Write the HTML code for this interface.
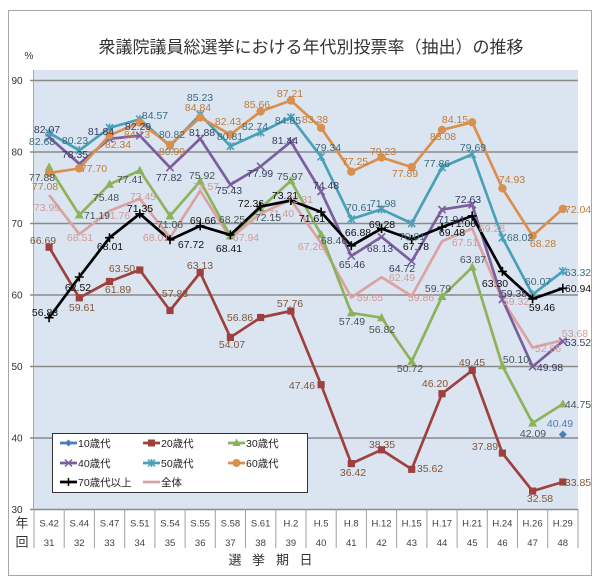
<!DOCTYPE html>
<html><head><meta charset="utf-8"><style>
html,body{margin:0;padding:0;background:#fff;}
svg{display:block;}
text{font-family:"Liberation Sans","Noto Sans CJK JP",sans-serif;}
.jp{font-family:"Liberation Sans","Noto Sans CJK JP",sans-serif;}
.lbl text{font-size:10.5px;text-anchor:middle;}
</style></head><body>
<svg width="610" height="581" viewBox="0 0 610 581" xmlns="http://www.w3.org/2000/svg">
<defs>
<marker id="m10" markerUnits="userSpaceOnUse" viewBox="-6 -6 12 12" markerWidth="12" markerHeight="12" refX="0" refY="0" overflow="visible"><polygon points="0,-4 4,0 0,4 -4,0" fill="#4a7ebb"/></marker>
<marker id="m20" markerUnits="userSpaceOnUse" viewBox="-6 -6 12 12" markerWidth="12" markerHeight="12" refX="0" refY="0" overflow="visible"><rect x="-3.6" y="-3.6" width="7.2" height="7.2" fill="#9e413e"/></marker>
<marker id="m30" markerUnits="userSpaceOnUse" viewBox="-6 -6 12 12" markerWidth="12" markerHeight="12" refX="0" refY="0" overflow="visible"><polygon points="0,-4.8 4.5,3.5 -4.5,3.5" fill="#8db35a"/></marker>
<marker id="m40" markerUnits="userSpaceOnUse" viewBox="-6 -6 12 12" markerWidth="12" markerHeight="12" refX="0" refY="0" overflow="visible"><path d="M-3.6,-3.6L3.6,3.6M3.6,-3.6L-3.6,3.6" stroke="#7b5f9d" stroke-width="1.6" fill="none"/></marker>
<marker id="m50" markerUnits="userSpaceOnUse" viewBox="-6 -6 12 12" markerWidth="12" markerHeight="12" refX="0" refY="0" overflow="visible"><path d="M-3.6,-3.6L3.6,3.6M3.6,-3.6L-3.6,3.6M0,-4.2L0,4.2" stroke="#4aa0b8" stroke-width="1.6" fill="none"/></marker>
<marker id="m60" markerUnits="userSpaceOnUse" viewBox="-6 -6 12 12" markerWidth="12" markerHeight="12" refX="0" refY="0" overflow="visible"><circle r="4.2" fill="#d98f4e"/></marker>
<marker id="m70" markerUnits="userSpaceOnUse" viewBox="-6 -6 12 12" markerWidth="12" markerHeight="12" refX="0" refY="0" overflow="visible"><path d="M0,-4.5V4.5M-4.5,0H4.5" stroke="#000" stroke-width="1.6" fill="none"/></marker>
</defs>

<!-- outer frame -->
<rect x="8.5" y="10.5" width="583" height="565" fill="#fff" stroke="#a6a6a6" stroke-width="1"/>

<!-- title -->
<text x="311" y="53" font-size="17" fill="#333" text-anchor="middle" class="jp">衆議院議員総選挙における年代別投票率（抽出）の推移</text>
<text x="29" y="59" font-size="10" fill="#333" text-anchor="middle">%</text>

<!-- plot area -->
<rect x="33" y="70" width="545" height="439.5" fill="#dbe5f1"/>
<line x1="33.5" y1="70" x2="33.5" y2="509.5" stroke="#a0a8b0" stroke-width="1"/>

<!-- gridlines -->
<g stroke="#8a8a8a" stroke-width="1.6">
<line x1="30" y1="80.5" x2="578" y2="80.5"/>
<line x1="30" y1="152" x2="578" y2="152"/>
<line x1="30" y1="223.5" x2="578" y2="223.5"/>
<line x1="30" y1="295" x2="578" y2="295"/>
<line x1="30" y1="366.5" x2="578" y2="366.5"/>
<line x1="30" y1="438" x2="578" y2="438"/>
<line x1="30" y1="509.5" x2="578" y2="509.5"/>
</g>

<!-- y labels -->
<g font-size="10" fill="#333" text-anchor="middle">
<text x="17" y="84">90</text>
<text x="17" y="155.5">80</text>
<text x="17" y="227">70</text>
<text x="17" y="298.5">60</text>
<text x="17" y="370">50</text>
<text x="17" y="441.5">40</text>
<text x="17" y="513">30</text>
</g>

<!-- category separators -->
<g stroke="#a0a0a0" stroke-width="1">
<line x1="34" y1="509" x2="34" y2="548"/><line x1="64.2" y1="509" x2="64.2" y2="548"/><line x1="94.4" y1="509" x2="94.4" y2="548"/><line x1="124.7" y1="509" x2="124.7" y2="548"/><line x1="154.9" y1="509" x2="154.9" y2="548"/><line x1="185.1" y1="509" x2="185.1" y2="548"/><line x1="215.3" y1="509" x2="215.3" y2="548"/><line x1="245.5" y1="509" x2="245.5" y2="548"/><line x1="275.8" y1="509" x2="275.8" y2="548"/><line x1="306" y1="509" x2="306" y2="548"/><line x1="336.2" y1="509" x2="336.2" y2="548"/><line x1="366.4" y1="509" x2="366.4" y2="548"/><line x1="396.6" y1="509" x2="396.6" y2="548"/><line x1="426.9" y1="509" x2="426.9" y2="548"/><line x1="457.1" y1="509" x2="457.1" y2="548"/><line x1="487.3" y1="509" x2="487.3" y2="548"/><line x1="517.5" y1="509" x2="517.5" y2="548"/><line x1="547.7" y1="509" x2="547.7" y2="548"/><line x1="578" y1="509" x2="578" y2="548"/>
</g>

<!-- category labels -->
<g font-size="9.5" fill="#404040" text-anchor="middle">
<text x="49.1" y="526.5">S.42</text><text x="79.3" y="526.5">S.44</text><text x="109.5" y="526.5">S.47</text><text x="139.8" y="526.5">S.51</text><text x="170" y="526.5">S.54</text><text x="200.2" y="526.5">S.55</text><text x="230.4" y="526.5">S.58</text><text x="260.6" y="526.5">S.61</text><text x="290.9" y="526.5">H.2</text><text x="321.1" y="526.5">H.5</text><text x="351.3" y="526.5">H.8</text><text x="381.5" y="526.5">H.12</text><text x="411.7" y="526.5">H.15</text><text x="442" y="526.5">H.17</text><text x="472.2" y="526.5">H.21</text><text x="502.4" y="526.5">H.24</text><text x="532.6" y="526.5">H.26</text><text x="562.8" y="526.5">H.29</text>
<text x="49.1" y="546">31</text><text x="79.3" y="546">32</text><text x="109.5" y="546">33</text><text x="139.8" y="546">34</text><text x="170" y="546">35</text><text x="200.2" y="546">36</text><text x="230.4" y="546">37</text><text x="260.6" y="546">38</text><text x="290.9" y="546">39</text><text x="321.1" y="546">40</text><text x="351.3" y="546">41</text><text x="381.5" y="546">42</text><text x="411.7" y="546">43</text><text x="442" y="546">44</text><text x="472.2" y="546">45</text><text x="502.4" y="546">46</text><text x="532.6" y="546">47</text><text x="562.8" y="546">48</text>
</g>
<g font-size="13" fill="#333" text-anchor="middle" class="jp">
<text x="22" y="527.5">年</text>
<text x="22" y="546.5">回</text>
<text x="235" y="564.5">選</text>
<text x="258.5" y="564.5">挙</text>
<text x="282.5" y="564.5">期</text>
<text x="306" y="564.5">日</text>
</g>

<!-- series lines -->
<g fill="none" stroke-width="2.7" stroke-linejoin="round">
<polyline stroke="#d9a3a1" points="49.1,195.0 79.3,234.2 109.5,210.9 139.8,198.8 170.0,237.7 200.2,190.8 230.4,238.2 260.6,213.5 290.9,199.8 321.1,243.1 351.3,297.5 381.5,277.2 411.7,296.0 442.0,241.3 472.2,228.6 502.4,299.9 532.6,347.5 562.8,340.2"/>
<polyline stroke="#9e413e" marker-start="url(#m20)" marker-mid="url(#m20)" marker-end="url(#m20)" points="49.1,247.2 79.3,297.8 109.5,281.5 139.8,270.0 170.0,310.5 200.2,272.6 230.4,337.4 260.6,317.5 290.9,311.0 321.1,384.7 351.3,463.6 381.5,449.8 411.7,469.3 442.0,393.7 472.2,370.4 502.4,453.1 532.6,491.1 562.8,482.0"/>
<polyline stroke="#8db35a" marker-start="url(#m30)" marker-mid="url(#m30)" marker-end="url(#m30)" points="49.1,167.2 79.3,215.0 109.5,184.3 139.8,170.5 170.0,215.9 200.2,181.2 230.4,236.0 260.6,208.1 290.9,180.8 321.1,234.5 351.3,312.9 381.5,317.7 411.7,361.4 442.0,296.5 472.2,267.3 502.4,365.8 532.6,423.1 562.8,404.0"/>
<polyline stroke="#7b5f9d" marker-start="url(#m40)" marker-mid="url(#m40)" marker-end="url(#m40)" points="49.1,137.2 79.3,163.8 109.5,138.8 139.8,135.6 170.0,167.6 200.2,138.6 230.4,184.7 260.6,166.4 290.9,141.7 321.1,191.5 351.3,256.0 381.5,236.9 411.7,261.3 442.0,209.6 472.2,204.7 502.4,299.4 532.6,366.6 562.8,341.3"/>
<polyline stroke="#4aa0b8" marker-start="url(#m50)" marker-mid="url(#m50)" marker-end="url(#m50)" points="49.1,132.8 79.3,150.4 109.5,127.8 139.8,119.3 170.0,146.1 200.2,114.6 230.4,146.2 260.6,132.4 290.9,117.3 321.1,156.7 351.3,219.1 381.5,209.3 411.7,223.4 442.0,167.3 472.2,154.2 502.4,237.7 532.6,294.5 562.8,271.3"/>
<polyline stroke="#d98f4e" marker-start="url(#m60)" marker-mid="url(#m60)" marker-end="url(#m60)" points="49.1,172.9 79.3,168.4 109.5,135.3 139.8,122.5 170.0,144.9 200.2,117.4 230.4,134.6 260.6,111.5 290.9,100.5 321.1,127.8 351.3,171.7 381.5,157.5 411.7,167.1 442.0,130.0 472.2,122.3 502.4,188.3 532.6,235.8 562.8,208.9"/>
<polyline stroke="#000" marker-start="url(#m70)" marker-mid="url(#m70)" marker-end="url(#m70)" points="49.1,317.7 79.3,277.0 109.5,237.7 139.8,213.8 170.0,239.8 200.2,225.9 230.4,234.9 260.6,206.6 290.9,200.5 321.1,212.0 351.3,245.8 381.5,228.6 411.7,239.4 442.0,227.2 472.2,215.9 502.4,271.4 532.6,298.9 562.8,288.3"/>
</g>
<polygon points="562.8,430.5 566.8,434.5 562.8,438.5 558.8,434.5" fill="#4a7ebb"/>

<!-- data labels -->
<g class="lbl">
<g fill="#d09a98">
<text x="47" y="211">73.99</text><text x="80" y="241">68.51</text><text x="117" y="219">71.76</text><text x="143" y="200">73.45</text><text x="156" y="241">68.01</text><text x="206" y="190">74.57</text><text x="246" y="241">67.94</text><text x="281" y="217">71.40</text><text x="300" y="203">73.31</text><text x="311" y="250">67.26</text><text x="370" y="301">59.65</text><text x="402" y="281">62.49</text><text x="421" y="301">59.86</text><text x="465" y="246">67.51</text><text x="492" y="232">69.28</text><text x="516" y="305">59.32</text><text x="548" y="352">52.66</text><text x="575" y="337">53.68</text>
</g>
<g fill="#80563a">
<text x="43" y="244">66.69</text><text x="82" y="311">59.61</text><text x="118" y="293">61.89</text><text x="122" y="272">63.50</text><text x="175" y="297">57.83</text><text x="200" y="269">63.13</text><text x="232" y="348">54.07</text><text x="240" y="321">56.86</text><text x="290" y="307">57.76</text><text x="302" y="389">47.46</text><text x="353" y="476">36.42</text><text x="382" y="448">38.35</text><text x="430" y="472">35.62</text><text x="435" y="387">46.20</text><text x="472" y="366">49.45</text><text x="485" y="450">37.89</text><text x="540" y="502">32.58</text><text x="578" y="486">33.85</text>
</g>
<g fill="#46545a">
<text x="42" y="181">77.88</text><text x="97" y="219">71.19</text><text x="106" y="201">75.48</text><text x="130" y="183">77.41</text><text x="170" y="228">71.06</text><text x="202" y="179">75.92</text><text x="232" y="223">68.25</text><text x="268" y="221">72.15</text><text x="290" y="180">75.97</text><text x="334" y="244">68.46</text><text x="352" y="325">57.49</text><text x="382" y="333">56.82</text><text x="410" y="372">50.72</text><text x="438" y="292">59.79</text><text x="473" y="263">63.87</text><text x="516" y="363">50.10</text><text x="533" y="437">42.09</text><text x="578" y="408">44.75</text>
</g>
<g fill="#3a3d60">
<text x="47" y="133">82.07</text><text x="75" y="158">78.35</text><text x="101" y="135">81.84</text><text x="138" y="130">82.29</text><text x="169" y="181">77.82</text><text x="202" y="136">81.88</text><text x="229" y="194">75.43</text><text x="260" y="177">77.99</text><text x="285" y="144">81.44</text><text x="326" y="189">74.48</text><text x="352" y="268">65.46</text><text x="380" y="252">68.13</text><text x="402" y="272">64.72</text><text x="451" y="223">71.94</text><text x="468" y="203">72.63</text><text x="514" y="297">59.38</text><text x="550" y="371">49.98</text><text x="578" y="346">53.52</text>
</g>
<g fill="#3c6c80">
<text x="42" y="145">82.68</text><text x="75" y="144">80.23</text><text x="155" y="119">84.57</text><text x="172" y="138">80.82</text><text x="200" y="101">85.23</text><text x="230" y="140">80.81</text><text x="255" y="130">82.74</text><text x="288" y="124">84.85</text><text x="328" y="151">79.34</text><text x="359" y="211">70.61</text><text x="383" y="207">71.98</text><text x="412" y="240">70.01</text><text x="437" y="167">77.86</text><text x="473" y="151">79.69</text><text x="520" y="241">68.02</text><text x="538" y="285">60.07</text><text x="578" y="276">63.32</text>
</g>
<g fill="#c07a35">
<text x="45" y="190">77.08</text><text x="94" y="172">77.70</text><text x="118" y="148">82.34</text><text x="137" y="138">84.13</text><text x="172" y="155">80.99</text><text x="198" y="111">84.84</text><text x="228" y="125">82.43</text><text x="257" y="108">85.66</text><text x="290" y="97">87.21</text><text x="315" y="123">83.38</text><text x="355" y="165">77.25</text><text x="383" y="155">79.23</text><text x="405" y="177">77.89</text><text x="443" y="140">83.08</text><text x="455" y="123">84.15</text><text x="512" y="183">74.93</text><text x="543" y="247">68.28</text><text x="578" y="213">72.04</text>
</g>
<g fill="#111">
<text x="45" y="316">56.83</text><text x="78" y="291">62.52</text><text x="110" y="250">68.01</text><text x="140" y="212">71.35</text><text x="191" y="248">67.72</text><text x="203" y="224">69.66</text><text x="229" y="252">68.41</text><text x="251" y="207">72.36</text><text x="285" y="199">73.21</text><text x="312" y="222">71.61</text><text x="358" y="236">66.88</text><text x="382" y="228">69.28</text><text x="416" y="250">67.78</text><text x="452" y="236">69.48</text><text x="463" y="227">71.06</text><text x="495" y="287">63.30</text><text x="542" y="311">59.46</text><text x="578" y="292">60.94</text>
</g>
<text x="560" y="427" fill="#4a7ebb">40.49</text>
</g>

<!-- legend -->
<rect x="52.5" y="433.5" width="255" height="59" fill="#fff" stroke="#333" stroke-width="1"/>
<g stroke-width="2.7">
<line x1="60" y1="443" x2="77" y2="443" stroke="#4a7ebb" marker-mid="url(#m10)"/>
<polygon points="68.5,439.5 72,443 68.5,446.5 65,443" fill="#4a7ebb"/>
<line x1="143" y1="443" x2="160" y2="443" stroke="#9e413e"/>
<rect x="148" y="439.5" width="7" height="7" fill="#9e413e"/>
<line x1="228" y1="443" x2="245" y2="443" stroke="#8db35a"/>
<polygon points="236.5,438.5 240.5,446 232.5,446" fill="#8db35a"/>
<line x1="60" y1="463" x2="77" y2="463" stroke="#7b5f9d"/>
<path d="M65,459.5L72,466.5M72,459.5L65,466.5" stroke="#7b5f9d" stroke-width="1.5"/>
<line x1="143" y1="463" x2="160" y2="463" stroke="#4aa0b8"/>
<path d="M148,459.5L155,466.5M155,459.5L148,466.5M151.5,459V467" stroke="#4aa0b8" stroke-width="1.5"/>
<line x1="228" y1="463" x2="245" y2="463" stroke="#d98f4e"/>
<circle cx="236.5" cy="463" r="4" fill="#d98f4e"/>
<line x1="60" y1="482" x2="77" y2="482" stroke="#000"/>
<path d="M68.5,478V486" stroke="#000" stroke-width="1.5"/>
<line x1="143" y1="482" x2="160" y2="482" stroke="#d9a3a1"/>
</g>
<g font-size="10.5" fill="#222" class="jp">
<text x="78" y="447">10歳代</text>
<text x="161" y="447">20歳代</text>
<text x="246" y="447">30歳代</text>
<text x="78" y="467">40歳代</text>
<text x="161" y="467">50歳代</text>
<text x="246" y="467">60歳代</text>
<text x="78" y="486">70歳代以上</text>
<text x="161" y="486">全体</text>
</g>
</svg>
</body></html>
